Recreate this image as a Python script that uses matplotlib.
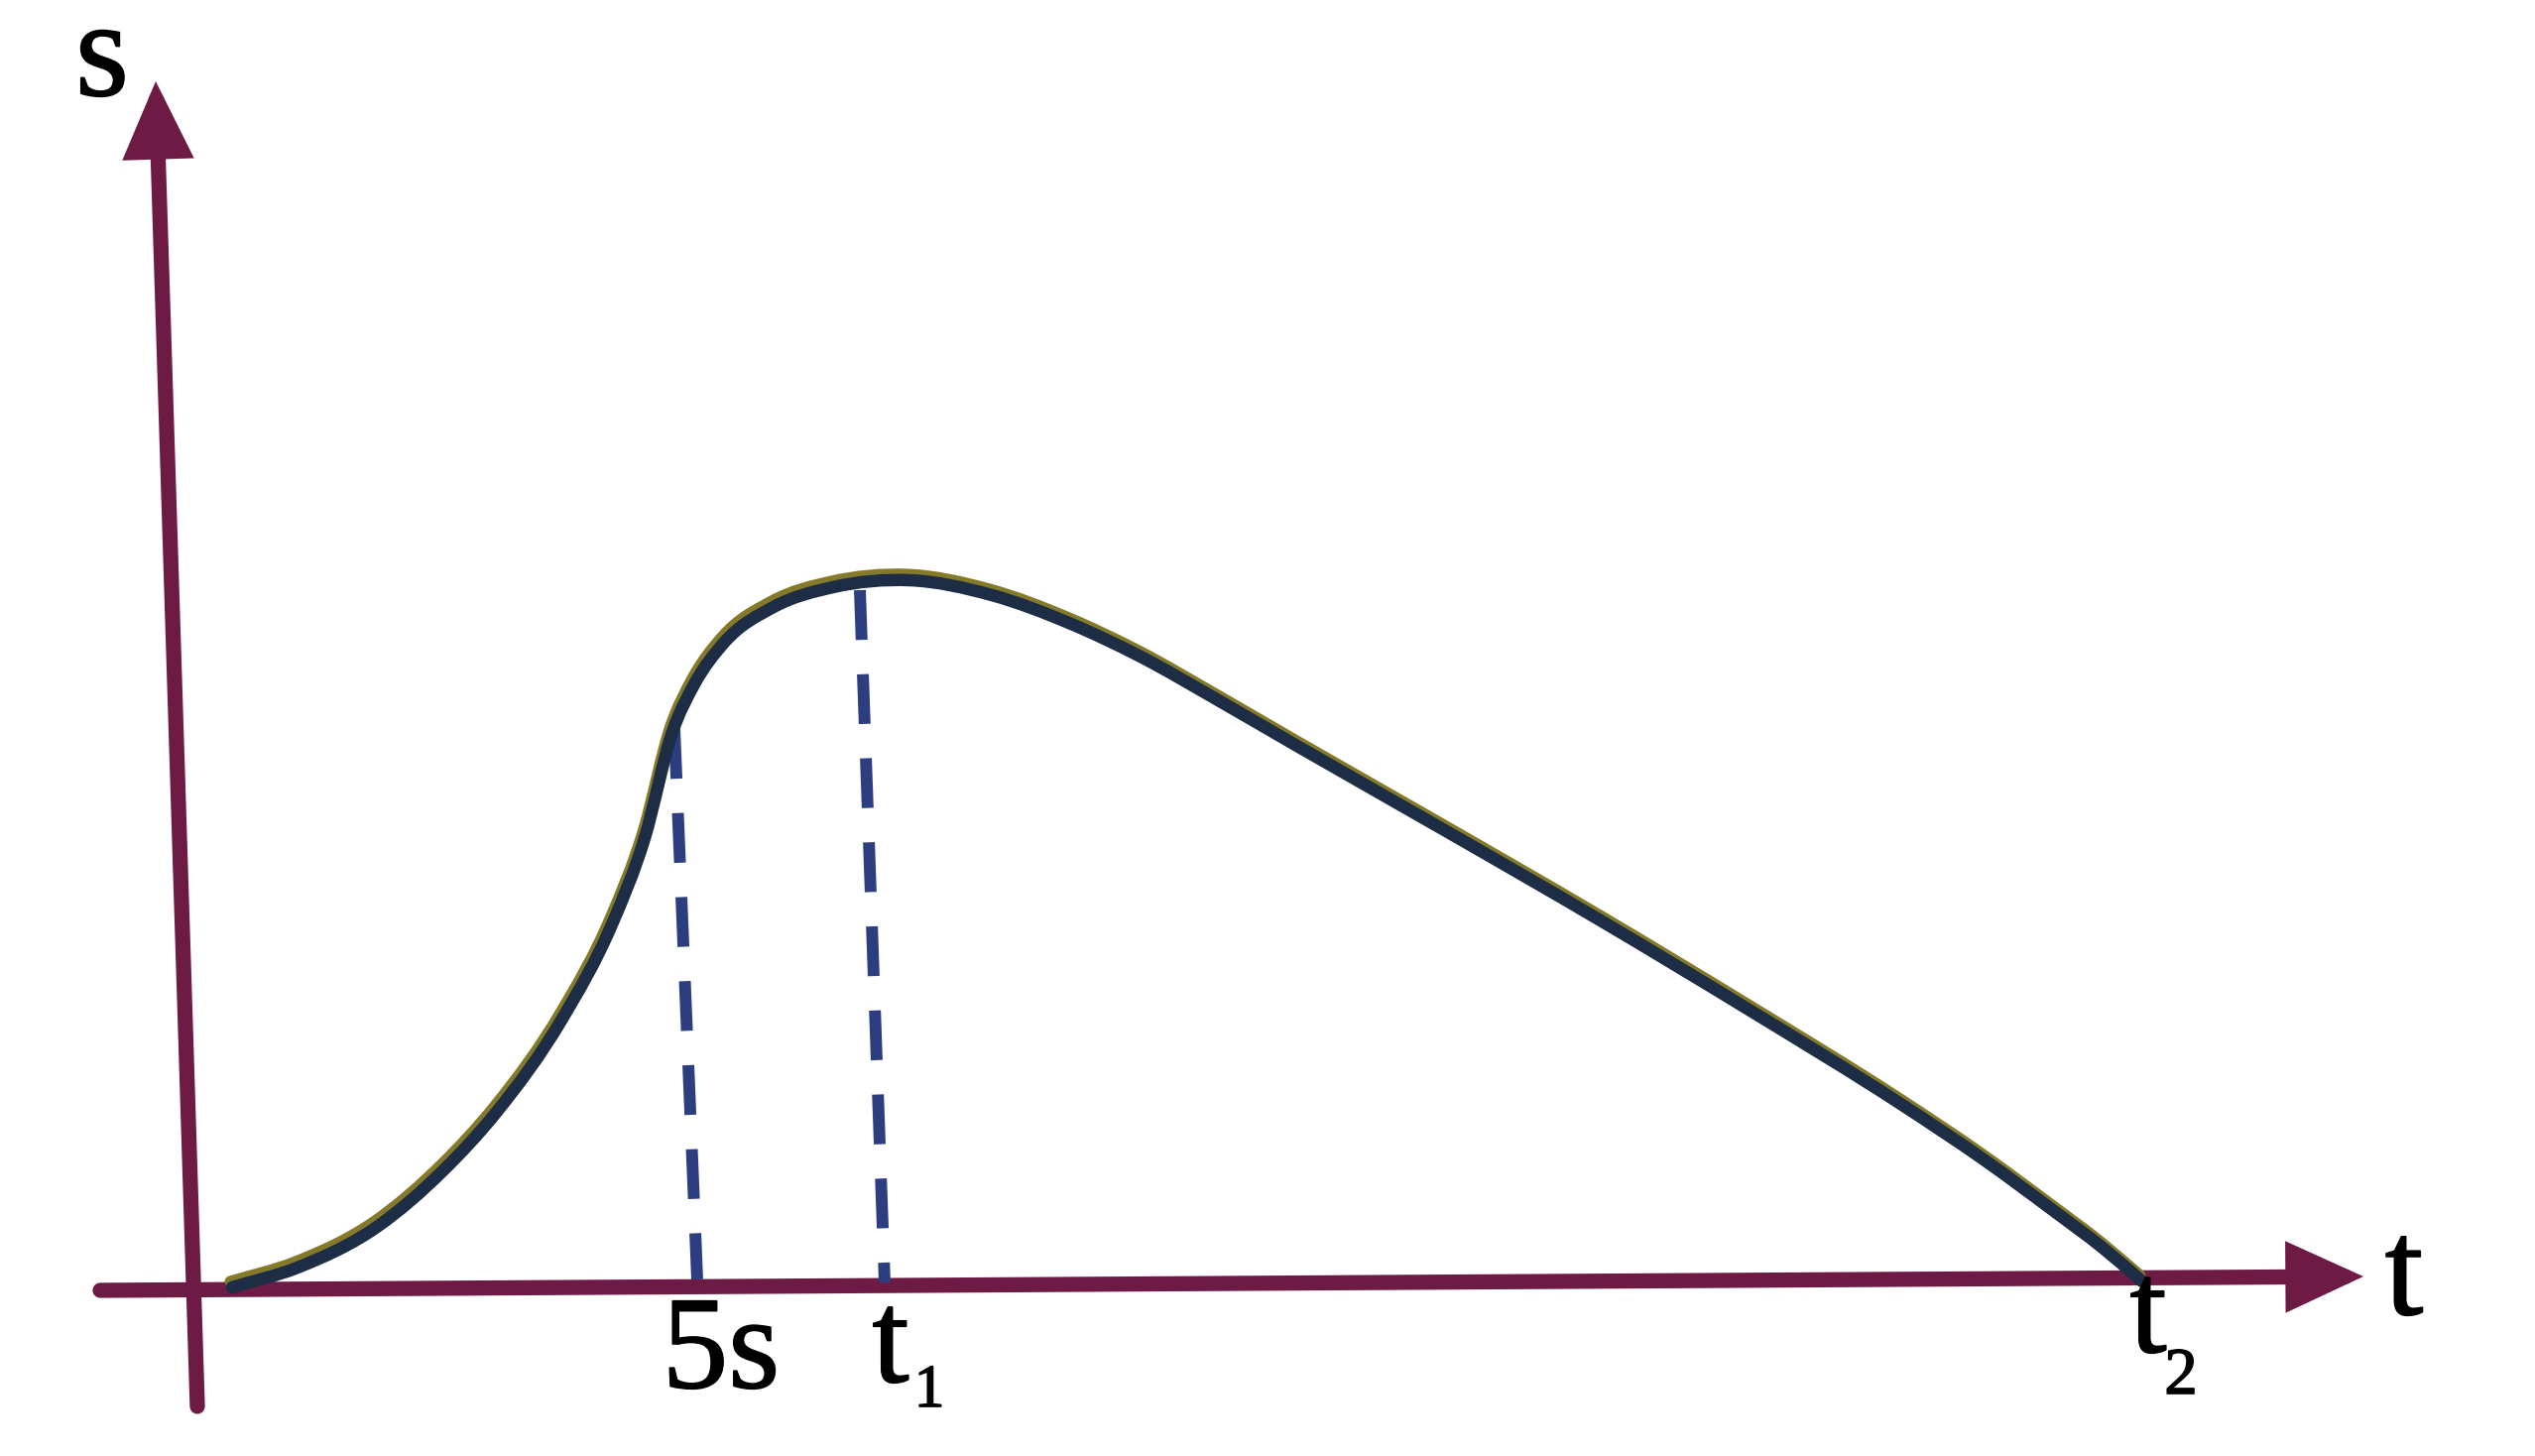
import matplotlib
matplotlib.use("Agg")
import matplotlib.pyplot as plt
import matplotlib.transforms as mtransforms
import matplotlib.patheffects as pe
from matplotlib import font_manager
from matplotlib.path import Path
from matplotlib.patches import PathPatch

# curve s(t) in image pixels (y grows downwards)
t_curve = [234, 300, 380, 447, 500, 567, 617, 650, 678, 700, 730, 780, 840, 917,
           1000, 1080, 1150, 1230, 1306, 1460, 1612, 1765, 1918, 2000, 2071, 2120, 2160]
s_curve = [1298, 1278, 1237, 1180, 1122, 1027, 932, 845, 738, 690, 648, 612, 592, 585,
           600, 629, 662, 707, 751, 839, 927, 1019, 1114, 1169, 1221, 1258, 1292]

# dashed drop lines (top point on curve, foot on the t axis)
drop_5s = [(680, 735), (703, 1290)]
drop_t1 = [(867, 595), (892, 1293)]

# axes (tail, tip)
s_axis = [(199, 1418), (157, 82)]
t_axis = [(101, 1301), (2383, 1287)]

# labels: text, x, baseline y, size
labels = [("s", 103, 96, 100),
          ("5s", 727, 1399, 96),
          ("t", 898, 1393, 96),
          ("1", 937, 1418, 44),
          ("t", 2166, 1363, 96),
          ("2", 2199, 1405, 48),
          ("t", 2424, 1325, 100)]

axis_col = "#6d1a45"
curve_col = "#1c2d45"
edge_col = "#857a2a"
dash_col = "#2c3d80"

# serif font like the printed labels
serif_file = font_manager.findfont(font_manager.FontProperties(family="Liberation Serif"))

fig = plt.figure(figsize=(25.56, 14.68), dpi=100)
ax = fig.add_axes([0, 0, 1, 1])
ax.set_xlim(0, 2556)
ax.set_ylim(1468, 0)
ax.axis("off")

# axes with arrow heads
for tail, tip in [s_axis, t_axis]:
    ax.annotate("", xy=tip, xytext=tail,
                arrowprops=dict(arrowstyle="-|>,head_length=0.76,head_width=0.35",
                                lw=11, color=axis_col, mutation_scale=50,
                                shrinkA=0, shrinkB=0, joinstyle="miter"),
                zorder=1)

# dashed verticals
for (x0, y0), (x1, y1) in [drop_5s, drop_t1]:
    ax.plot([x0, x1], [y0, y1], color=dash_col, lw=8.6,
            linestyle=(0, (4.2, 2.9)), solid_capstyle="butt", zorder=2)

# smooth curve through the read points (cubic hermite in t)
n = len(t_curve)
slopes = []
for i in range(n):
    if i == 0:
        m = (s_curve[1] - s_curve[0]) / (t_curve[1] - t_curve[0])
    elif i == n - 1:
        m = (s_curve[-1] - s_curve[-2]) / (t_curve[-1] - t_curve[-2])
    else:
        hl = t_curve[i] - t_curve[i - 1]
        hr = t_curve[i + 1] - t_curve[i]
        dl = (s_curve[i] - s_curve[i - 1]) / hl
        dr = (s_curve[i + 1] - s_curve[i]) / hr
        m = (dl * hr + dr * hl) / (hl + hr)
    slopes.append(m)

verts = [(t_curve[0], s_curve[0])]
codes = [Path.MOVETO]
for i in range(n - 1):
    h = t_curve[i + 1] - t_curve[i]
    verts += [(t_curve[i] + h / 3, s_curve[i] + slopes[i] * h / 3),
              (t_curve[i + 1] - h / 3, s_curve[i + 1] - slopes[i + 1] * h / 3),
              (t_curve[i + 1], s_curve[i + 1])]
    codes += [Path.CURVE4] * 3
path = Path(verts, codes)

# olive edge slightly above, navy stroke on top
shifted = mtransforms.offset_copy(ax.transData, fig=fig, x=-2, y=6, units="dots")
ax.add_patch(PathPatch(path, fill=False, edgecolor=edge_col, lw=8,
                       capstyle="round", transform=shifted, zorder=3))
ax.add_patch(PathPatch(path, fill=False, edgecolor=curve_col, lw=9,
                       capstyle="round", zorder=4))

for txt, x, y, size in labels:
    ax.text(x, y, txt, ha="center", va="baseline",
            fontproperties=font_manager.FontProperties(fname=serif_file, size=size),
            color="black", zorder=5,
            path_effects=[pe.withStroke(linewidth=1.2, foreground="black")])

fig.savefig("out.png", dpi=100, facecolor="white")
